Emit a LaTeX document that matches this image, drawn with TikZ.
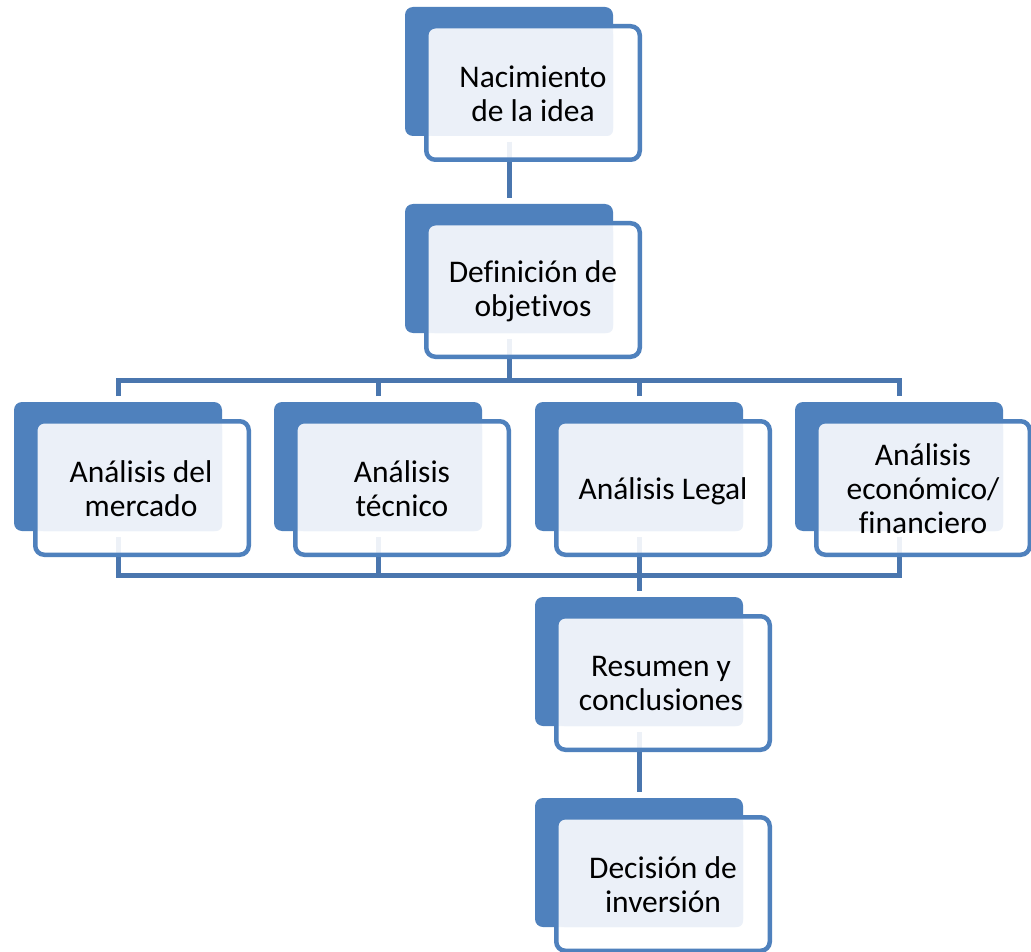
\documentclass[tikz,border=0pt]{standalone}
\usepackage{fontspec}
\setmainfont{Carlito}[Ligatures=NoCommon]
\usetikzlibrary{calc}
\definecolor{accent}{HTML}{4F81BD}
\definecolor{connblue}{HTML}{4A76AE}
\definecolor{textfillc}{HTML}{EBF0F8}
\begin{document}
\begin{tikzpicture}[x=1pt,y=-1pt,
  backbox/.style={rectangle,fill=accent,rounded corners=8pt,minimum width=208pt,minimum height=129pt,anchor=north west,inner sep=0pt,outer sep=0pt},
  frontfill/.style={fill=white,fill opacity=0.9,rounded corners=9pt},
  textfill/.style={fill=textfillc,rounded corners=6pt},
  frontline/.style={draw=accent,line width=4.5pt,rounded corners=9pt},
  conn/.style={draw=connblue,line width=5pt,line join=miter},
  lbl/.style={align=center,font=\fontsize{31.5}{34}\selectfont,text=black,inner sep=0pt}]
\fill[white] (0,0) rectangle (1031,952);
\useasboundingbox (0,0) rectangle (1031,952);
\def\stages{n1/405/7,n2/405/204,r1/14/402,r2/274/402,r3/535/402,r4/795/402,n3/535/597,n4/535/798}
% back boxes
\foreach \n/\x/\y in \stages { \node[backbox] (\n b) at (\x,\y) {}; }
% connectors
\coordinate (busT) at (0,380);
\coordinate (busB) at (0,575);
\draw[conn] ([yshift=-6pt]n1b.south) -- ([yshift=6pt]n2b.north);
\draw[conn] ([yshift=-6pt]n2b.south) -- (n2b.south |- busT);
\draw[conn] ([yshift=6pt]r1b.north) -- (r1b.north |- busT) -- (r4b.north |- busT) -- ([yshift=6pt]r4b.north);
\draw[conn] ([yshift=6pt]r2b.north) -- (r2b.north |- busT);
\draw[conn] ([yshift=6pt]r3b.north) -- (r3b.north |- busT);
\draw[conn] ([yshift=-6pt]r1b.south) -- (r1b.south |- busB) -- (r4b.south |- busB) -- ([yshift=-6pt]r4b.south);
\draw[conn] ([yshift=-6pt]r2b.south) -- (r2b.south |- busB);
\draw[conn] ([yshift=-6pt]r3b.south) -- ([yshift=6pt]n3b.north);
\draw[conn] ([yshift=-6pt]n3b.south) -- ([yshift=6pt]n4b.north);
% front boxes
\foreach \n/\x/\y in \stages {
  \fill[frontfill] (\x+21,\y+19) rectangle ++(214,134);
  \fill[textfill] (\x+23.5,\y+21.5) rectangle (\x+208,\y+129);
  \draw[frontline] (\x+21.25,\y+19.25) rectangle ++(213.5,133.5);
}
% labels
\node[lbl] (t1) at (533,94) {Nacimiento\\de la idea};
\node[lbl] (t2) at (533,291) {Definición de\\objetivos};
\node[lbl] (t3) at (141,489) {Análisis del\\mercado};
\node[lbl] (t4) at (402,489) {Análisis\\técnico};
\node[lbl] (t5) at (663,491) {Análisis Legal};
\node[lbl] (t6) at (923,489) {Análisis\\económico/\\financiero};
\node[lbl] (t7) at (661,684) {Resumen y\\conclusiones};
\node[lbl] (t8) at (663,885) {Decisión de\\inversión};
\end{tikzpicture}
\end{document}
